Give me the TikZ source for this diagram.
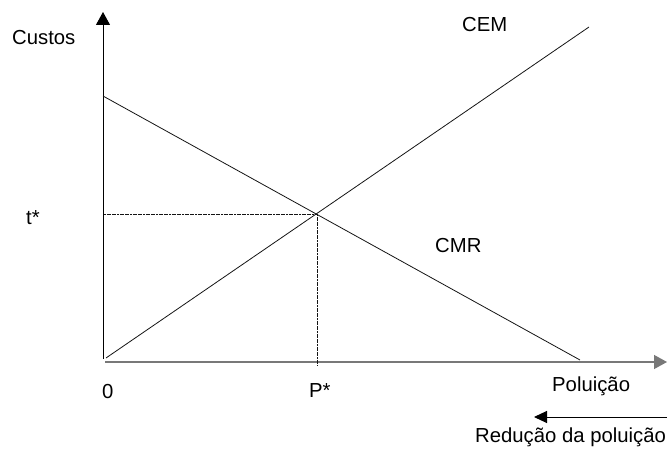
\documentclass[tikz,border=0pt]{standalone}
\usepackage{fontspec}
\setmainfont{Liberation Sans}
\usetikzlibrary{arrows.meta,positioning}
\definecolor{colEixo}{RGB}{120,120,120}
\definecolor{colCurva}{RGB}{20,20,20}

\begin{document}
\begin{tikzpicture}[x=1pt,y=-1pt,font=\fontsize{20.3}{24}\selectfont,
    eixo/.style={line width=1pt,-{Triangle[length=13pt,width=14pt]}},
    curva/.style={line width=0.8pt, colCurva},
    guia/.style={line width=0.6pt, colCurva, dash pattern=on 2pt off 0.6pt},
    rot/.style={inner sep=0pt, anchor=base west}]
    \useasboundingbox (0,0) rectangle (667,449);
    % pontos
    \coordinate (o) at (103,359);
    \coordinate (ytopo) at (103,12);
    \coordinate (ox) at (105,362);
    \coordinate (xfim) at (667,362);
    \coordinate (cemA) at (106,358);
    \coordinate (cemB) at (589,27);
    \coordinate (cmrA) at (103,96);
    \coordinate (cmrB) at (580,360);
    \coordinate (eq) at (317,214);
    \coordinate (tval) at (104,214);
    \coordinate (pval) at (317,366);
    \coordinate (redA) at (667,417);
    \coordinate (redB) at (534,417);
    % rotulos
    \node[rot] (custos) at (12,45) {Custos};
    \node[rot] (cem) at (462,32) {CEM};
    \node[rot] (cmr) at (435,253) {CMR};
    \node[rot] (tstar) at (26,225) {t*};
    \node[rot] (zero) at (102,398) {0};
    \node[rot] (pstar) at (309,397) {P*};
    \node[rot] (polu) at (552,391) {Poluição};
    \node[rot] (redu) at (475,442) {Redução da poluição};
    % eixos
    \draw[eixo] (o) -- (ytopo);
    \draw[eixo, line width=1.3pt, colEixo] (ox) -- (xfim);
    % curvas
    \draw[curva] (cemA) -- (cemB);
    \draw[curva] (cmrA) -- (cmrB);
    \draw[guia] (tval) -- (eq);
    \draw[guia] (eq) -- (pval);
    \draw[line width=1pt,-{Triangle[length=13pt,width=12pt]}] (redA) -- (redB);
  \end{tikzpicture}
\end{document}
